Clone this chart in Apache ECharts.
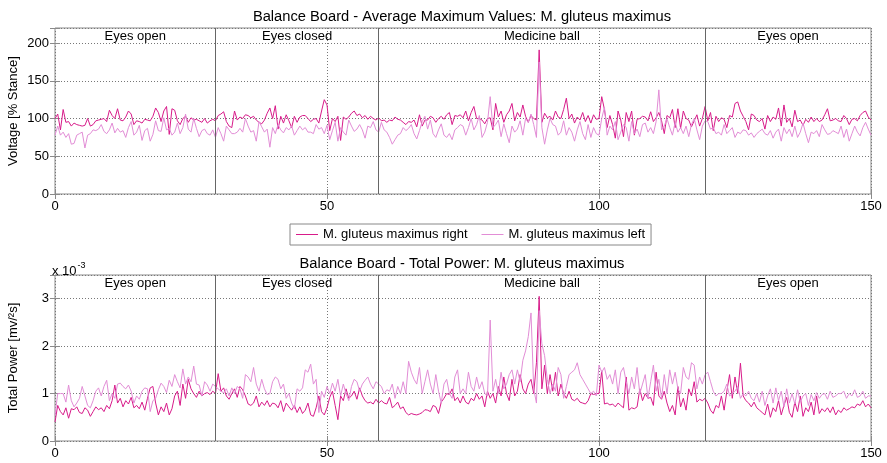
<!DOCTYPE html>
<html><head><meta charset="utf-8">
<script src="https://cdn.jsdelivr.net/npm/echarts@6/dist/echarts.min.js"></script>
<style>html,body{margin:0;padding:0;background:#fff}#c{width:887px;height:463px}</style>
</head><body><div id="c"></div>
<script>
// ---- data ----
const STEP = 0.5; // sample spacing on the x axis
const sectionNames = ['Eyes open', 'Eyes closed', 'Medicine ball', 'Eyes open'];
const sectionBounds = [0, 29.5, 59.5, 119.5, 150];
const seriesNames = ['M. gluteus maximus right', 'M. gluteus maximus left'];
const titles = ['Balance Board - Average Maximum Values: M. gluteus maximus', 'Balance Board - Total Power: M. gluteus maximus'];
const yNames = ['Voltage [% Stance]', 'Total Power [mv/\u00B2s]'];

// Average maximum values [% stance]
const avgMaxRight = [
100,106,85,112,95,96,90,94,92,91, 90,91,100,90,92,97,98,99,100,96,
111,104,100,113,98,97,102,110,106,92, 97,96,94,99,98,97,103,114,108,96,
110,116,79,113,111,97,92,100,103,95, 101,98,99,97,95,100,94,97,99,97,
104,106,109,96,90,88,110,98,102,100, 105,104,101,103,98,95,93,98,107,114,
100,117,86,103,94,105,97,88,103,95, 102,104,104,100,96,99,100,94,110,125,
118,84,100,96,103,71,102,99,102,107, 110,104,106,101,104,99,103,100,98,101,
97,98,95,98,97,102,99,98,95,92, 96,95,98,89,105,90,98,98,103,101,
95,100,103,99,105,108,92,104,103,105, 101,110,97,108,116,100,100,98,93,100,
101,85,120,102,110,95,105,110,120,97, 108,102,118,103,95,104,100,98,191,95,
107,101,103,98,110,102,100,112,127,100, 106,94,102,98,108,96,104,94,105,99,
100,129,112,88,104,92,74,110,98,76, 108,96,110,78,99,100,103,102,97,109,
96,101,108,97,80,104,101,112,88,113, 87,110,100,98,89,97,105,90,100,116,
97,108,84,103,96,101,99,88,104,102, 120,122,110,103,96,85,106,104,98,96,
100,86,104,96,102,99,114,90,118,95, 100,89,111,96,98,91,99,95,102,96,
100,96,98,105,113,97,98,100,97,96, 104,100,92,99,100,97,104,108,110,102,
98];
const avgMaxLeft = [
78,90,78,82,75,80,66,67,78,80, 82,61,78,80,85,84,86,92,83,80,
85,94,81,87,82,84,75,88,96,78, 82,91,71,84,87,70,79,97,84,83,
101,85,87,78,82,94,80,88,106,86, 82,100,87,76,84,86,80,78,85,75,
88,80,70,90,85,80,80,82,87,82, 100,90,82,84,70,96,89,82,86,62,
88,80,92,85,81,88,85,90,78,84, 90,85,88,82,82,80,92,86,88,80,
91,72,84,95,70,88,82,78,98,90, 83,86,92,85,74,90,88,96,85,82,
95,85,82,75,66,72,78,80,88,84, 87,92,80,73,84,96,103,86,98,80,
75,85,93,78,75,80,72,85,88,92, 90,78,88,100,85,92,104,75,82,95,
129,88,92,98,76,93,80,68,90,82, 86,97,78,100,95,106,92,75,175,88,
66,85,100,92,90,78,82,97,78,88, 82,70,85,96,80,72,92,75,88,80,
78,100,115,78,90,85,96,72,82,92, 88,70,96,80,86,76,92,94,82,88,
80,96,138,85,90,100,88,78,95,82, 88,80,90,76,92,100,85,72,90,97,
96,86,88,80,82,78,92,80,84,88, 75,82,80,85,84,78,81,75,80,83,
86,80,78,84,74,82,86,70,88,80, 86,76,90,75,82,94,80,68,82,80,
84,76,92,85,79,80,84,82,80,90, 75,86,70,80,90,82,77,88,95,86,
78];

// Total power, in units of 10^-3 mv/^2s
const powerRight = [
0.40,0.75,0.62,0.55,0.70,0.48,0.68,0.66,0.72,0.60, 0.58,0.70,0.65,0.52,0.62,0.72,0.66,0.70,0.62,0.75,
0.68,0.85,1.18,0.80,0.90,0.72,0.85,0.78,0.92,0.70, 0.75,0.68,0.82,0.65,0.90,1.12,1.15,0.80,0.55,0.72,
0.62,0.80,0.55,0.68,0.95,1.05,0.75,1.20,0.90,1.30, 1.10,1.00,0.92,1.05,0.95,1.00,1.02,0.98,1.05,1.00,
1.42,1.05,1.12,0.95,0.88,1.00,1.10,0.92,1.15,1.08, 0.95,0.78,0.75,0.80,0.95,0.72,0.82,0.75,0.85,0.72,
0.80,0.78,0.70,0.85,0.62,0.80,0.72,0.65,0.75,0.60, 0.72,0.58,0.65,0.80,0.55,0.52,0.70,0.95,0.62,0.55,
0.70,0.92,1.05,0.75,0.45,0.95,0.85,1.10,0.90,0.95, 1.05,0.88,1.12,0.95,0.85,0.80,0.82,0.78,0.88,0.80,
0.85,0.80,0.78,0.92,0.70,0.75,0.82,0.68,0.72,0.60, 0.55,0.58,0.56,0.55,0.57,0.60,0.66,0.65,0.62,0.75,
0.72,0.58,0.82,0.90,1.00,0.98,1.10,0.85,0.92,0.80, 0.95,0.82,0.78,0.90,0.85,1.00,0.88,0.95,0.72,1.05,
0.90,1.00,0.80,1.15,0.95,1.35,1.00,0.85,1.30,0.95, 1.05,1.40,1.10,1.00,1.20,1.30,1.00,1.65,3.05,1.10,
1.60,1.00,1.40,1.05,1.45,0.95,1.20,1.00,0.90,1.05, 0.88,0.85,0.90,0.82,0.80,0.78,0.85,1.00,0.98,1.00,
1.00,1.48,0.78,0.80,0.76,0.78,0.72,0.80,0.75,0.70, 1.35,0.65,0.70,0.68,0.72,1.10,0.85,1.00,0.90,0.92,
0.75,1.45,0.95,0.88,1.05,0.80,0.62,0.75,0.55,1.15, 0.72,0.90,0.65,1.10,0.95,1.25,0.82,0.88,0.85,0.90,
0.80,0.65,0.58,0.75,0.70,0.95,0.65,1.05,1.40,0.90, 1.35,1.00,1.64,0.95,0.85,0.80,0.72,0.82,0.70,0.65,
0.60,0.55,0.78,0.50,0.70,0.62,0.85,0.55,0.75,0.92, 0.60,0.50,0.82,0.62,0.95,0.52,0.70,0.62,0.82,0.55,
0.95,0.58,0.68,0.62,0.70,0.60,0.72,0.55,0.65,0.60, 0.70,0.65,0.68,0.72,0.70,0.78,0.75,0.85,0.72,0.78,
0.70];
const powerLeft = [
0.55,1.00,1.00,1.00,0.82,1.18,0.85,0.72,0.80,0.90, 1.15,0.95,0.75,0.70,0.85,1.05,1.12,0.95,1.15,1.28,
0.85,1.00,0.90,1.20,1.22,1.15,1.10,1.18,1.05,0.80, 0.95,0.88,1.05,1.12,1.10,0.62,0.85,0.90,1.08,1.22,
1.15,1.02,1.28,1.15,1.40,1.25,1.12,1.52,1.20,1.35, 1.25,1.58,1.20,1.18,0.95,1.25,1.18,1.05,1.20,1.15,
1.10,1.05,1.02,1.10,0.95,1.12,1.00,1.15,1.10,0.90, 1.40,1.35,1.25,1.55,1.20,1.05,1.30,1.10,0.98,1.00,
1.25,1.35,1.30,1.10,1.20,0.90,1.00,0.80,0.68,1.10, 1.05,1.12,1.50,1.45,1.62,1.20,1.30,0.60,1.05,0.92,
1.15,1.00,1.22,1.05,1.30,0.95,1.20,1.00,0.85,1.15, 1.30,1.25,1.05,1.20,1.28,1.35,1.20,1.10,1.25,1.20,
1.15,1.00,1.08,1.05,1.20,0.90,1.15,1.00,1.25,1.00, 1.68,1.45,1.30,1.20,1.55,1.00,1.25,1.50,1.20,1.00,
1.40,1.05,0.80,1.20,1.30,1.00,0.90,1.35,1.50,1.00, 1.10,1.00,1.45,1.15,1.05,1.35,1.10,1.25,1.00,0.95,
2.55,1.05,1.30,1.00,1.45,1.10,1.20,1.40,1.50,1.20, 1.50,1.25,1.70,1.90,2.20,2.70,1.10,0.80,2.75,2.05,
1.80,1.30,1.00,1.20,1.05,1.55,1.40,0.90,1.15,1.40, 1.45,1.50,1.65,1.40,1.30,1.20,1.10,1.00,1.05,0.95,
1.60,1.45,1.55,1.30,1.40,1.20,1.50,1.00,1.45,1.55, 1.25,1.00,1.35,1.10,1.55,1.00,1.20,1.40,0.90,1.25,
1.60,1.05,1.30,0.90,1.40,1.00,1.50,1.20,1.45,1.10, 1.00,1.55,1.35,1.30,1.65,1.60,1.10,1.35,1.20,1.40,
1.45,1.25,1.05,0.95,1.00,1.00,1.05,1.20,0.95,1.00, 1.05,1.15,0.90,1.00,0.95,1.05,0.90,0.85,1.00,0.82,
1.05,0.75,0.95,1.10,0.80,1.12,0.85,1.05,0.72,1.10, 0.80,1.00,0.78,1.08,0.82,0.95,1.00,0.75,0.98,0.85,
1.02,0.90,0.98,1.00,0.88,1.05,0.92,0.95,1.00,1.00, 1.05,0.90,1.00,0.95,1.08,0.92,0.95,1.05,0.90,0.95,
0.95];

// ---- chart ----
const FONT = "'Liberation Sans', Arial, Helvetica, sans-serif";
const C_RIGHT = '#d81b8a';
const C_LEFT = '#e28dd6';
const FRAME = '#8a8a8a';

function pairs(arr) { return arr.map((v, i) => [i * STEP, v]); }

const sectionAreas = sectionNames.map((n, i) => [
  { xAxis: sectionBounds[i], name: n },
  { xAxis: sectionBounds[i + 1] }
]);
const sectionLines = sectionBounds.slice(1, -1).map(b => ({ xAxis: b }));

function mainX(gi) {
  return {
    gridIndex: gi, type: 'value', min: 0, max: 150, interval: 50,
    axisLine: { show: false },
    axisTick: { show: true, inside: true, length: 5, lineStyle: { color: FRAME } },
    axisLabel: { color: '#000', fontFamily: FONT, fontSize: 13, margin: 6 },
    splitLine: { show: true, lineStyle: { color: '#777', type: [1, 2], width: 1 } }
  };
}
function topX(gi) {
  return {
    gridIndex: gi, type: 'value', min: 0, max: 150, interval: 50, position: 'top',
    axisLine: { show: false },
    axisTick: { show: true, inside: true, length: 5, lineStyle: { color: FRAME } },
    axisLabel: { show: false }, splitLine: { show: false }
  };
}
function mainY(gi, max, interval, top, name, gap) {
  return {
    gridIndex: gi, type: 'value', min: 0, max: max, interval: interval,
    name: name, nameLocation: 'middle', nameRotate: 90, nameGap: gap, nameMoveOverlap: false,
    nameTextStyle: { color: '#000', fontFamily: FONT, fontSize: 13 },
    axisLine: { show: false },
    axisTick: { show: true, inside: true, length: 5, lineStyle: { color: FRAME } },
    axisLabel: { color: '#000', fontFamily: FONT, fontSize: 13, margin: 6,
      formatter: v => (v > top + 1e-9 ? '' : String(v)) },
    splitLine: { show: true, lineStyle: { color: '#777', type: [1, 2], width: 1 } }
  };
}
function rightY(gi, max, interval) {
  return {
    gridIndex: gi, type: 'value', min: 0, max: max, interval: interval, position: 'right',
    axisLine: { show: false },
    axisTick: { show: true, inside: true, length: 5, lineStyle: { color: FRAME } },
    axisLabel: { show: false }, splitLine: { show: false }
  };
}

function lineSeries(name, data, color, xi, yi, extra) {
  return Object.assign({
    name: name, type: 'line', xAxisIndex: xi, yAxisIndex: yi,
    data: pairs(data), symbol: 'none', showSymbol: false, animation: false,
    lineStyle: { color: color, width: 1 }, itemStyle: { color: color },
    z: 3
  }, extra || {});
}

function decorations() {
  return {
    markLine: {
      silent: true, symbol: 'none', animation: false,
      label: { show: false },
      lineStyle: { color: '#666', type: 'solid', width: 1 },
      data: sectionLines
    },
    markArea: {
      silent: true, animation: false,
      itemStyle: { color: 'rgba(0,0,0,0)' },
      label: { show: true, position: 'insideTop', distance: 2, color: '#000', fontFamily: FONT, fontSize: 13 },
      data: sectionAreas
    }
  };
}

const chart = echarts.init(document.getElementById('c'), null, { renderer: 'canvas' });
chart.setOption({
  backgroundColor: '#fff',
  animation: false,
  title: [
    { text: titles[0], left: 457, top: 4, textAlign: 'center',
      textStyle: { color: '#000', fontFamily: FONT, fontSize: 14.7, fontWeight: 'normal' } },
    { text: titles[1], left: 457, top: 251, textAlign: 'center',
      textStyle: { color: '#000', fontFamily: FONT, fontSize: 14.7, fontWeight: 'normal' } },
    { text: '{a|x 10}{b|-3}', left: 52, top: 259, padding: 0,
      textStyle: { fontWeight: 'normal', rich: {
        a: { color: '#000', fontFamily: FONT, fontSize: 13, fontWeight: 'normal', padding: [6, 0, 0, 0] },
        b: { color: '#000', fontFamily: FONT, fontSize: 9, fontWeight: 'normal', padding: [0, 0, 6, 1] }
      } } }
  ],
  legend: {
    data: seriesNames.map(n => ({ name: n, icon: 'rect' })),
    left: 290, top: 224,
    orient: 'horizontal', itemWidth: 22, itemHeight: 1, itemGap: 14,
    padding: [4, 6], borderColor: '#888', borderWidth: 1, backgroundColor: '#fff',
    textStyle: { color: '#000', fontFamily: FONT, fontSize: 13 }
  },
  grid: [
    { left: 55, right: 16, top: 28, bottom: 269, outerBoundsMode: 'none', containLabel: false,
      show: true, borderColor: FRAME, borderWidth: 1, backgroundColor: '#fff' },
    { left: 55, right: 16, top: 275, bottom: 22, outerBoundsMode: 'none', containLabel: false,
      show: true, borderColor: FRAME, borderWidth: 1, backgroundColor: '#fff' }
  ],
  xAxis: [mainX(0), topX(0), mainX(1), topX(1)],
  yAxis: [
    mainY(0, 220, 50, 200, yNames[0], 35),
    rightY(0, 220, 50),
    mainY(1, 3.5, 1, 3, yNames[1], 35),
    rightY(1, 3.5, 1)
  ],
  series: [
    lineSeries(seriesNames[0], avgMaxRight, C_RIGHT, 0, 0, decorations()),
    lineSeries(seriesNames[1], avgMaxLeft, C_LEFT, 0, 0),
    lineSeries(seriesNames[0], powerRight, C_RIGHT, 2, 2, decorations()),
    lineSeries(seriesNames[1], powerLeft, C_LEFT, 2, 2)
  ]
});
</script></body></html>
